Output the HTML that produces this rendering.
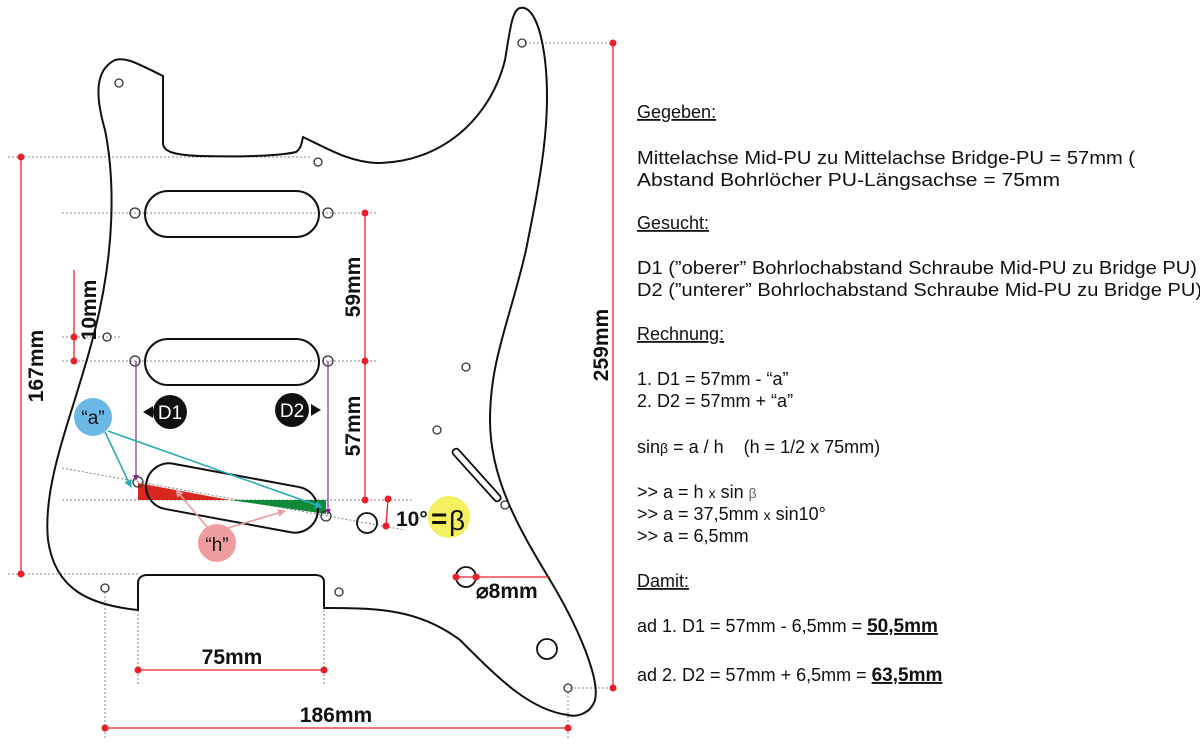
<!DOCTYPE html>
<html><head><meta charset="utf-8"><style>
html,body{margin:0;padding:0;background:#fff;}
svg{display:block;}
.t{font-family:"Liberation Sans",Arial,sans-serif;font-size:18px;fill:#111;}
.d{font-family:"Liberation Sans Narrow","Liberation Sans",sans-serif;font-weight:bold;font-size:21px;fill:#111;}
</style></head><body>
<svg width="1200" height="744" viewBox="0 0 1200 744" xmlns="http://www.w3.org/2000/svg">
<defs>
<marker id="ab" markerWidth="8" markerHeight="8" refX="7" refY="4" orient="auto" markerUnits="userSpaceOnUse"><path d="M0,0 L8,4 L0,8 z" fill="#2aaab8"/></marker>
<marker id="ap" markerWidth="8" markerHeight="8" refX="7" refY="4" orient="auto" markerUnits="userSpaceOnUse"><path d="M0,0 L8,4 L0,8 z" fill="#f09aa0"/></marker>
<marker id="am" markerWidth="6" markerHeight="6" refX="5" refY="3" orient="auto" markerUnits="userSpaceOnUse"><path d="M0,0 L6,3 L0,6 z" fill="#8a2a8a"/></marker>
</defs>
<g stroke="#888" stroke-width="1" stroke-dasharray="2,2" fill="none">
<line x1="8" y1="157" x2="310" y2="157"/>
<line x1="8" y1="574" x2="140" y2="574"/>
<line x1="62" y1="213" x2="378" y2="213"/>
<line x1="62" y1="361" x2="378" y2="361"/>
<line x1="62" y1="337" x2="122" y2="337"/>
<line x1="62" y1="500" x2="413" y2="500"/>
<line x1="62" y1="468" x2="405" y2="530"/>
<line x1="525" y1="43" x2="615" y2="43"/>
<line x1="570" y1="688" x2="615" y2="688"/>
<line x1="105" y1="592" x2="105" y2="740"/>
<line x1="138" y1="610" x2="138" y2="685"/>
<line x1="324" y1="610" x2="324" y2="685"/>
<line x1="568" y1="692" x2="568" y2="740"/>
</g>
<path d="M138,610 C90,605 55,590 48,540 C42,480 75,410 95,330 C115,250 115,180 105,130 C95,95 95,70 115,60 C125,57 135,62 163,76 L163,143 C163,152 175,155 200,156 C240,157 280,156 296,152 C302,148 302,140 303,137 C330,150 350,162 377,163 C440,163 490,120 505,60 C510,30 512,10 520,8 C530,6 540,20 545,60 C552,120 540,180 526,250 C510,320 490,360 490,420 C490,480 520,530 550,580 C580,630 600,680 595,700 C590,715 575,717 568,715 C530,710 500,680 460,640 C420,610 380,608 330,608 L324,608 L324,582 C324,577 320,575 315,575 L147,575 C142,575 138,578 138,583 L138,610 Z" fill="none" stroke="#111" stroke-width="2"/>
<rect x="145" y="191" width="174" height="46" rx="23" fill="none" stroke="#111" stroke-width="2"/>
<rect x="145" y="339" width="174" height="46" rx="23" fill="none" stroke="#111" stroke-width="2"/>
<polygon points="138,483 138,500 230,500" fill="#d8281e"/>
<polygon points="230,500 326,500 326,514" fill="#0f8a3a"/>
<rect x="145" y="475" width="174" height="46" rx="23" transform="rotate(10.5 232 498)" fill="none" stroke="#111" stroke-width="2"/>
<g fill="none" stroke="#333" stroke-width="1.3">
<circle cx="119" cy="83" r="4"/><circle cx="318" cy="162" r="4"/><circle cx="522" cy="43" r="4"/>
<circle cx="135" cy="213" r="5"/><circle cx="328" cy="213" r="5"/>
<circle cx="135" cy="361" r="5"/><circle cx="328" cy="361" r="5"/>
<circle cx="107" cy="337" r="4"/><circle cx="466" cy="367" r="4"/><circle cx="437" cy="430" r="4"/>
<circle cx="505" cy="505" r="4"/><circle cx="105" cy="588" r="4"/><circle cx="339" cy="592" r="4"/>
<circle cx="568" cy="688" r="4"/><circle cx="138" cy="482" r="5"/><circle cx="326" cy="516" r="5"/>
</g>
<g fill="none" stroke="#111" stroke-width="1.8">
<circle cx="367" cy="523" r="10"/><circle cx="466" cy="577" r="10"/><circle cx="547" cy="649" r="10"/>
<rect x="446" y="465" width="68" height="7" rx="3" transform="rotate(48 471 468)"/>
</g>
<g stroke="#8a2a8a" stroke-width="1.2">
<line x1="136" y1="361" x2="136" y2="480" marker-end="url(#am)"/>
<line x1="328" y1="361" x2="328" y2="514" marker-end="url(#am)"/>
</g>
<g stroke="#e8202a" stroke-width="1.3">
<line x1="21" y1="157" x2="21" y2="574"/>
<line x1="613" y1="43" x2="613" y2="688"/>
<line x1="365" y1="213" x2="365" y2="500"/>
<line x1="74" y1="270" x2="74" y2="361"/>
<line x1="138" y1="670" x2="324" y2="670"/>
<line x1="105" y1="728" x2="568" y2="728"/>
<line x1="388" y1="499" x2="386" y2="526"/>
<line x1="455" y1="577" x2="550" y2="577"/>
</g>
<g fill="#e8202a">
<circle cx="21" cy="157" r="3.5"/><circle cx="21" cy="574" r="3.5"/>
<circle cx="613" cy="43" r="3.5"/><circle cx="613" cy="688" r="3.5"/>
<circle cx="365" cy="213" r="3.5"/><circle cx="365" cy="361" r="3.5"/><circle cx="365" cy="500" r="3.5"/>
<circle cx="74" cy="337" r="3.5"/><circle cx="74" cy="361" r="3.5"/>
<circle cx="138" cy="670" r="3.5"/><circle cx="324" cy="670" r="3.5"/>
<circle cx="105" cy="728" r="3.5"/><circle cx="568" cy="728" r="3.5"/>
<circle cx="388" cy="499" r="3.5"/><circle cx="386" cy="526" r="3.5"/>
<circle cx="456" cy="577" r="3.5"/><circle cx="476" cy="577" r="3.5"/>
</g>
<text class="d" transform="translate(43,366) rotate(-90)" text-anchor="middle">167mm</text>
<text class="d" transform="translate(608,345) rotate(-90)" text-anchor="middle">259mm</text>
<text class="d" transform="translate(360,287) rotate(-90)" text-anchor="middle">59mm</text>
<text class="d" transform="translate(360,426) rotate(-90)" text-anchor="middle">57mm</text>
<text class="d" transform="translate(96,310) rotate(-90)" text-anchor="middle">10mm</text>
<text class="d" x="232" y="664" text-anchor="middle">75mm</text>
<text class="d" x="336" y="722" text-anchor="middle">186mm</text>
<text class="d" x="476" y="598">⌀8mm</text>
<text class="d" x="396" y="526">10°</text>
<circle cx="93" cy="417" r="19" fill="#6ab8e6"/>
<text x="93" y="424" text-anchor="middle" font-family="Liberation Sans" font-size="19" fill="#111">“a”</text>
<circle cx="217" cy="543" r="19" fill="#ee9ca0"/>
<text x="217" y="551" text-anchor="middle" font-family="Liberation Sans" font-size="19" fill="#111">“h”</text>
<g stroke="#2aaab8" stroke-width="1.6" fill="none">
<line x1="105" y1="432" x2="131" y2="487" marker-end="url(#ab)"/>
<line x1="108" y1="431" x2="322" y2="507" marker-end="url(#ab)"/>
</g>
<g stroke="#f09aa0" stroke-width="1.6" fill="none">
<line x1="208" y1="528" x2="176" y2="490" marker-end="url(#ap)"/>
<line x1="228" y1="528" x2="285" y2="511" marker-end="url(#ap)"/>
</g>
<circle cx="170" cy="412" r="17" fill="#111"/>
<text x="170" y="419" text-anchor="middle" font-family="Liberation Sans" font-size="19" fill="#fff">D1</text>
<path d="M143,412 L153,406 L153,418 Z" fill="#111"/>
<circle cx="292" cy="410" r="17" fill="#111"/>
<text x="292" y="417" text-anchor="middle" font-family="Liberation Sans" font-size="19" fill="#fff">D2</text>
<path d="M321,410 L311,404 L311,416 Z" fill="#111"/>
<circle cx="449" cy="517" r="21" fill="#f5f060"/>
<text x="431" y="528" font-family="Liberation Sans" font-weight="bold" font-size="28" fill="#111">=</text>
<text x="449" y="530" font-family="Liberation Sans" font-size="28" fill="#111">β</text>
<g class="t">
<text x="637" y="118" text-decoration="underline">Gegeben:</text>
<text x="637" y="164" textLength="498" lengthAdjust="spacingAndGlyphs">Mittelachse Mid-PU zu Mittelachse Bridge-PU = 57mm (</text>
<text x="637" y="186" textLength="423" lengthAdjust="spacingAndGlyphs">Abstand Bohrlöcher PU-Längsachse = 75mm</text>
<text x="637" y="229" text-decoration="underline">Gesucht:</text>
<text x="637" y="274" textLength="560" lengthAdjust="spacingAndGlyphs">D1 (”oberer” Bohrlochabstand Schraube Mid-PU zu Bridge PU)</text>
<text x="637" y="296" textLength="565" lengthAdjust="spacingAndGlyphs">D2 (”unterer” Bohrlochabstand Schraube Mid-PU zu Bridge PU)</text>
<text x="637" y="340" text-decoration="underline">Rechnung:</text>
<text x="637" y="385">1. D1 = 57mm - “a”</text>
<text x="637" y="407">2. D2 = 57mm + “a”</text>
<text x="637" y="453" xml:space="preserve">sin<tspan font-size="14">β</tspan> = a / h    (h = 1/2 x 75mm)</text>
<text x="637" y="498">&gt;&gt; a = h <tspan font-size="14">x</tspan> sin <tspan font-size="14" fill="#666">β</tspan></text>
<text x="637" y="520">&gt;&gt; a = 37,5mm <tspan font-size="14">x</tspan> sin10°</text>
<text x="637" y="542">&gt;&gt; a = 6,5mm</text>
<text x="637" y="587" text-decoration="underline">Damit:</text>
<text x="637" y="632">ad 1. D1 = 57mm - 6,5mm = <tspan font-weight="bold" font-size="19" text-decoration="underline">50,5mm</tspan></text>
<text x="637" y="681">ad 2. D2 = 57mm + 6,5mm = <tspan font-weight="bold" font-size="19" text-decoration="underline">63,5mm</tspan></text>
</g>
</svg>
</body></html>
